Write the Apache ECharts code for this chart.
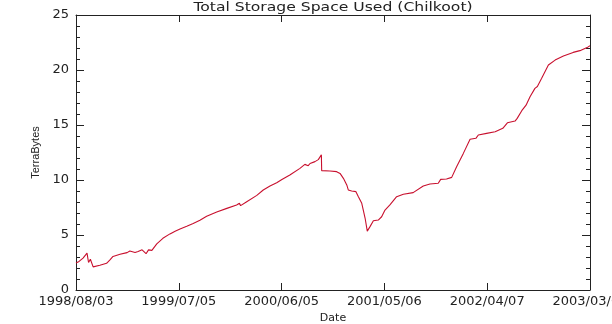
<!DOCTYPE html>
<html>
<head>
<meta charset="utf-8">
<script src="https://cdn.jsdelivr.net/npm/echarts@6/dist/echarts.min.js"></script>
<style>
html,body{margin:0;padding:0;background:#fff;}
#chart{width:612px;height:324px;}
</style>
</head>
<body>
<div id="chart"></div>
<script>
// Days since 1998/08/03
var dayOffsets = [0,10,23,36,41,47,56,78,100,111,121,144,167,176,193,203,216,229,237,248,264,284,307,324,340,362,383,389,405,427,460,493,525,534,538,558,591,612,634,656,673,699,732,748,759,765,781,792,802,803,830,852,863,874,885,890,901,915,923,934,939,945,952,961,972,988,999,1010,1026,1048,1070,1102,1108,1135,1157,1184,1192,1211,1228,1244,1266,1288,1307,1315,1342,1370,1395,1410,1435,1442,1457,1471,1484,1500,1508,1522,1544,1566,1593,1625,1647,1674,1680];
var teraBytes = [2.45,2.6,2.9,3.35,2.5,2.8,2.1,2.25,2.43,2.73,3.05,3.25,3.4,3.55,3.4,3.5,3.65,3.3,3.65,3.6,4.2,4.7,5.1,5.35,5.55,5.8,6.05,5.9,6.35,6.7,7.1,7.42,7.73,7.88,7.67,8.03,8.6,9.09,9.45,9.75,10.05,10.45,11.06,11.42,11.3,11.5,11.67,11.85,12.3,10.85,10.82,10.76,10.6,10.15,9.55,9.1,9.0,8.94,8.48,7.88,7.27,6.52,5.35,5.76,6.3,6.36,6.66,7.27,7.73,8.48,8.7,8.85,9.03,9.45,9.64,9.7,10.06,10.09,10.24,11.21,12.42,13.7,13.79,14.09,14.24,14.39,14.7,15.2,15.36,15.6,16.3,16.8,17.57,18.33,18.5,19.24,20.45,20.9,21.27,21.6,21.76,22.1,22.2];
var xTickLabels = ['1998/08/03','1999/07/05','2000/06/05','2001/05/06','2002/04/07','2003/03/09'];
var xTickStep = 336;
var yTickLabels = ['0','5','10','15','20','25'];
var titleText = 'Total Storage Space Used (Chilkoot)';

var seriesData = dayOffsets.map(function(d, i){ return [d, teraBytes[i]]; });
var axisColor = '#222';
var tickFont = {fontFamily:'DejaVu Sans', fontSize:13, color:'#222'};

var chart = echarts.init(document.getElementById('chart'), null, {renderer:'canvas'});
chart.setOption({
  animation:false,
  backgroundColor:'#fff',
  graphic:[{
    type:'text', x:333, y:8, scaleX:1.2, scaleY:1,
    style:{text:titleText, fontFamily:'DejaVu Sans', fontSize:13, fill:'#222',
      textAlign:'center', textVerticalAlign:'middle', verticalAlign:'middle'}
  }],
  grid:{left:76, right:22, top:15, bottom:34, containLabel:false, outerBoundsMode:'none'},
  xAxis:[{
    type:'value', min:0, max:xTickStep*5, interval:xTickStep, position:'bottom',
    name:'Date', nameLocation:'middle', nameGap:17,
    nameTextStyle:{fontFamily:'DejaVu Sans', fontSize:11, color:'#222'},
    axisLine:{show:true, onZero:false, lineStyle:{color:axisColor, width:1}},
    axisTick:{show:true, inside:true, length:7, lineStyle:{color:axisColor}},
    axisLabel:Object.assign({margin:5, showMaxLabel:true, showMinLabel:true,
      formatter:function(v){ return xTickLabels[Math.round(v/xTickStep)] || ''; }}, tickFont),
    splitLine:{show:false}
  },{
    type:'value', min:0, max:xTickStep*5, interval:xTickStep, position:'top',
    axisLine:{show:true, onZero:false, lineStyle:{color:axisColor, width:1}},
    axisTick:{show:true, inside:true, length:7, lineStyle:{color:axisColor}},
    axisLabel:{show:false}, splitLine:{show:false}
  }],
  yAxis:[{
    type:'value', min:0, max:25, interval:5, position:'left',
    name:'TerraBytes', nameLocation:'middle', nameGap:30, nameRotate:90,
    nameTextStyle:{fontFamily:'Liberation Sans', fontSize:11, color:'#222'},
    axisLine:{show:true, onZero:false, lineStyle:{color:axisColor, width:1}},
    axisTick:{show:true, inside:true, length:8, lineStyle:{color:axisColor}},
    minorTick:{show:true, splitNumber:5, length:4, lineStyle:{color:axisColor}},
    axisLabel:Object.assign({margin:7, formatter:function(v){ return yTickLabels[Math.round(v/5)]; }}, tickFont),
    splitLine:{show:false}, minorSplitLine:{show:false}
  },{
    type:'value', min:0, max:25, interval:5, position:'right',
    axisLine:{show:true, onZero:false, lineStyle:{color:axisColor, width:1}},
    axisTick:{show:true, inside:true, length:8, lineStyle:{color:axisColor}},
    minorTick:{show:true, splitNumber:5, length:4, lineStyle:{color:axisColor}},
    axisLabel:{show:false}, splitLine:{show:false}
  }],
  series:[{
    type:'line', xAxisIndex:0, yAxisIndex:0, data:seriesData,
    showSymbol:false, symbol:'none',
    lineStyle:{color:'#c8102e', width:1.1},
    itemStyle:{color:'#c8102e'}
  },{
    type:'line', xAxisIndex:1, yAxisIndex:1, data:[], symbol:'none', silent:true
  }]
});
</script>
</body>
</html>
